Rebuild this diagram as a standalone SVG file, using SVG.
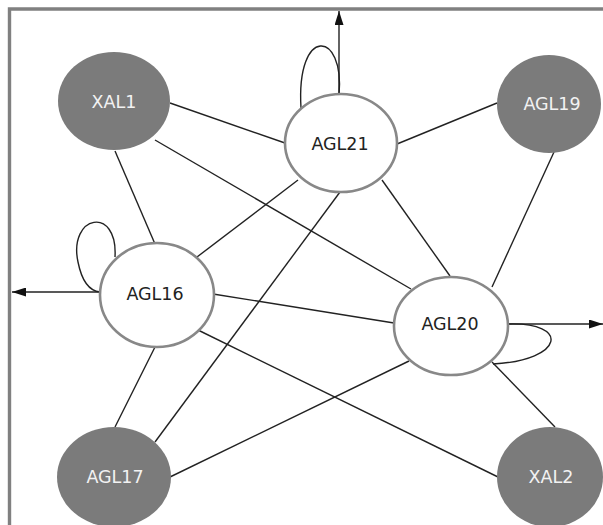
<svg xmlns="http://www.w3.org/2000/svg" width="603" height="525" viewBox="0 0 603 525">
<style>
.frame{stroke:#808080;stroke-width:3.4;fill:none}
.edge{stroke:#222;stroke-width:1.4;fill:none}
.dark ellipse{fill:#7b7b7b;stroke:none}
.light ellipse{fill:#fff;stroke:#888;stroke-width:2.6}
text{font-family:"DejaVu Sans","Liberation Sans",sans-serif;font-size:17.5px;text-anchor:middle;dominant-baseline:central}
.dark text{fill:#f2f2f2}
.light text{fill:#222}
</style>
<defs>
<marker id="arr" markerUnits="userSpaceOnUse" markerWidth="14" markerHeight="9" refX="14" refY="4.5" orient="auto">
<path d="M0,0 L14,4.5 L0,9 z" fill="#111"/>
</marker>
</defs>
<rect width="603" height="525" fill="#fff"/>
<path class="frame" d="M9.5,525 V9 H603"/>
<g id="connectors">
<line class="edge" x1="170" y1="103" x2="285" y2="143"/>
<line class="edge" x1="155" y1="140" x2="411" y2="289"/>
<line class="edge" x1="115" y1="151" x2="155" y2="244"/>
<line class="edge" x1="497" y1="103" x2="397" y2="144"/>
<line class="edge" x1="554" y1="152" x2="492" y2="287"/>
<line class="edge" x1="298" y1="180" x2="197" y2="257"/>
<line class="edge" x1="340" y1="192" x2="155" y2="442"/>
<line class="edge" x1="382" y1="180" x2="450" y2="276"/>
<line class="edge" x1="213" y1="294" x2="394" y2="323"/>
<line class="edge" x1="198" y1="330" x2="498" y2="477"/>
<line class="edge" x1="155" y1="347" x2="115" y2="427"/>
<line class="edge" x1="409" y1="361" x2="170" y2="477"/>
<line class="edge" x1="492" y1="362" x2="555" y2="427"/>
<path class="edge" d="M301,108 C296,25 345,30 339,95"/>
<path class="edge" d="M115,257 C118,205 68,215 78,262 C82,282 90,291 100,292"/>
<path class="edge" d="M508,324 C570,322 565,360 493,364"/>
<line class="edge" x1="339" y1="95" x2="339" y2="11" marker-end="url(#arr)"/>
<line class="edge" x1="100" y1="292" x2="12" y2="292" marker-end="url(#arr)"/>
<line class="edge" x1="508" y1="324" x2="603" y2="324" marker-end="url(#arr)"/>
</g>
<g id="XAL1" class="dark"><ellipse cx="114" cy="101" rx="56" ry="49"/><text x="114" y="102">XAL1</text></g>
<g id="AGL19" class="dark"><ellipse cx="549" cy="104" rx="52" ry="49"/><text x="552" y="104">AGL19</text></g>
<g id="AGL17" class="dark"><ellipse cx="114" cy="477" rx="57" ry="50"/><text x="115" y="477">AGL17</text></g>
<g id="XAL2" class="dark"><ellipse cx="550" cy="477" rx="53" ry="50"/><text x="551" y="477">XAL2</text></g>
<g id="AGL21" class="light"><ellipse cx="341" cy="143" rx="56" ry="49"/><text x="340" y="144">AGL21</text></g>
<g id="AGL16" class="light"><ellipse cx="157" cy="295" rx="57" ry="52"/><text x="155" y="294">AGL16</text></g>
<g id="AGL20" class="light"><ellipse cx="451" cy="326" rx="57" ry="49"/><text x="450" y="324">AGL20</text></g>
</svg>
